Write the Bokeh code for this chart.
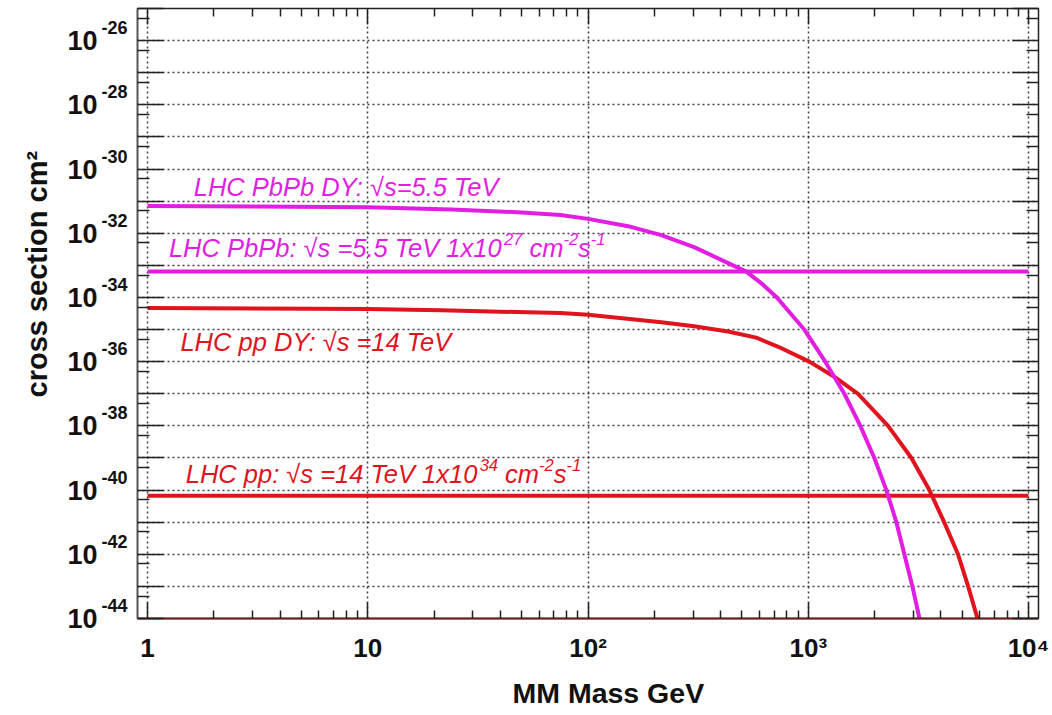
from bokeh.plotting import figure
from bokeh.models import FixedTicker, LogAxis, Label, Range1d, Title, LogScale
from bokeh.embed import file_html
from bokeh.resources import INLINE

# ---------------- data ----------------
pbpb_dy_mass = [1, 10, 24, 48, 75, 100, 152, 215, 303, 455, 523, 611, 720, 959,
                1194, 1458, 1723, 1995, 2262, 2512, 2731, 2971, 3198, 3300]
pbpb_dy_xsec = [7.0e-32, 6.5e-32, 5.5e-32, 4.5e-32, 3.7e-32, 2.8e-32, 1.66e-32,
                8.7e-33, 3.7e-33, 1.0e-33, 6.4e-34, 2.8e-34, 1.0e-34, 1.0e-35,
                1.0e-36, 1.0e-37, 1.0e-38, 1.0e-39, 1.0e-40, 1.0e-41, 1.0e-42,
                1.0e-43, 1.0e-44, 3.7e-45]

pp_dy_mass = [1, 10, 21.5, 48, 75, 100, 215, 303, 432, 580, 731, 1011, 1312,
              1683, 2303, 2940, 3548, 4139, 4786, 5321, 5866, 6050]
pp_dy_xsec = [4.7e-35, 4.4e-35, 4.0e-35, 3.5e-35, 3.3e-35, 2.9e-35, 1.7e-35,
              1.26e-35, 8.7e-36, 5.6e-36, 2.9e-36, 1.0e-36, 3.4e-37, 1.0e-37,
              1.0e-38, 1.0e-39, 1.0e-40, 1.0e-41, 1.0e-42, 1.0e-43, 1.0e-44,
              3.5e-45]

lumi_mass = [1, 10000]
pbpb_lumi_xsec = [6.4e-34, 6.4e-34]
pp_lumi_xsec = [6.6e-41, 6.6e-41]

x_ticks = [1.0, 10.0, 100.0, 1000.0, 10000.0]
x_tick_labels = ["1", "10", "10²", "10³", "10⁴"]
x_minor = [float(k * 10 ** n) for n in range(4) for k in range(2, 10)]

y_exponents = list(range(-44, -24))
y_ticks = [float(f"1e{e}") for e in y_exponents]
y_tick_base = ["10" if (e % 2 == 0 and e <= -26) else "" for e in y_exponents]
y_tick_exp = [str(e) if (e % 2 == 0 and e <= -26) else "" for e in y_exponents]
y_minor = [float(f"5e{e - 1}") for e in y_exponents]

# annotation texts: list of (text, is_superscript) pieces
label_pieces = [
    [("LHC PbPb DY: √s=5.5 TeV", False)],
    [("LHC PbPb: √s =5.5 TeV 1x10", False), ("27", True), (" cm", False),
     ("-2", True), ("s", False), ("-1", True)],
    [("LHC pp DY: √s =14 TeV", False)],
    [("LHC pp: √s =14 TeV 1x10", False), ("34", True), (" cm", False),
     ("-2", True), ("s", False), ("-1", True)],
]
label_mass = [1.62, 1.25, 1.41, 1.49]
label_xsec = [2.7e-31, 3.5e-33, 4.2e-36, 3.1e-40]

x_title = "MM Mass GeV"
y_title = "cross section cm²"

MAGENTA = "#E21EE2"
RED = "#E0141C"
FONT = "Liberation Sans"
INK = "#111111"

# Arial / Liberation Sans advance widths (1/1000 em)
AW = {' ': 278, 'L': 556, 'H': 722, 'C': 722, 'P': 667, 'b': 556, 'D': 722,
      'Y': 667, ':': 278, '√': 549, 's': 500, '=': 584, '.': 278, 'T': 611,
      'e': 556, 'V': 667, 'x': 500, 'c': 500, 'm': 833, 'p': 556, '-': 333}


def text_w(t, size):
    return sum(AW.get(ch, 556) for ch in t) * size / 1000.0


Y_LO, Y_HI = -44, -25            # log10 of the y range
FRAME_H = 610
PX_PER_DEC = FRAME_H / (Y_HI - Y_LO)
EXP_RAISE = 13 / PX_PER_DEC      # exponent labels sit 13 px above their tick

# ---------------- figure ----------------
p = figure(x_axis_type="log", y_axis_type="log",
           x_range=Range1d(0.9, 11100), y_range=Range1d(10.0 ** Y_LO, 10.0 ** Y_HI),
           frame_width=901, frame_height=FRAME_H,
           min_border_left=137, min_border_right=14, min_border_top=8,
           min_border_bottom=10,
           output_backend="svg", toolbar_location=None,
           background_fill_color="white", border_fill_color="white")
p.outline_line_color = "#222222"
p.outline_line_width = 1.5
p.extra_y_ranges = {
    "exp": Range1d(10.0 ** (Y_LO - EXP_RAISE), 10.0 ** (Y_HI - EXP_RAISE)),
}
p.extra_y_scales = {"exp": LogScale()}

xt = FixedTicker(ticks=x_ticks, minor_ticks=x_minor)
yt = FixedTicker(ticks=y_ticks, minor_ticks=y_minor)
yt_major = FixedTicker(ticks=y_ticks)

tick_style = dict(major_tick_line_color="#222222", minor_tick_line_color="#222222",
                  major_tick_line_width=1.5, minor_tick_line_width=1.5)

for ax in p.xaxis:
    ax.ticker = xt
    ax.major_label_overrides = dict(zip(x_ticks, x_tick_labels))
    ax.major_label_text_font = FONT
    ax.major_label_text_font_style = "bold"
    ax.major_label_text_font_size = "26px"
    ax.major_label_text_color = INK
    ax.major_label_standoff = 14
    ax.major_tick_in = 16
    ax.major_tick_out = 0
    ax.minor_tick_in = 8
    ax.minor_tick_out = 0
    ax.axis_line_color = "#6E1E1E"
    ax.axis_line_width = 2
    for k, v in tick_style.items():
        setattr(ax, k, v)

# innermost left axis: tick marks only
for ax in p.yaxis:
    ax.ticker = yt
    ax.major_label_overrides = {t: "" for t in y_ticks}
    ax.major_label_text_font_size = "8px"
    ax.major_label_standoff = 0
    ax.major_tick_in = 26
    ax.major_tick_out = 0
    ax.minor_tick_in = 12
    ax.minor_tick_out = 0
    ax.axis_line_color = "#555555"
    ax.axis_line_width = 1.5
    for k, v in tick_style.items():
        setattr(ax, k, v)

# exponent labels (raised)
exp_axis = LogAxis(y_range_name="exp", ticker=yt_major,
                   major_label_overrides=dict(zip(y_ticks, y_tick_exp)),
                   major_label_text_font=FONT, major_label_text_font_style="bold",
                   major_label_text_font_size="18px", major_label_text_color=INK,
                   major_label_standoff=10, major_tick_in=0, major_tick_out=0,
                   minor_tick_in=0, minor_tick_out=0, axis_line_color=None,
                   major_tick_line_color=None, minor_tick_line_color=None)
p.add_layout(exp_axis, "left")
# mantissa labels "10"
base_axis = LogAxis(ticker=yt_major,
                    major_label_overrides=dict(zip(y_ticks, y_tick_base)),
                    major_label_text_font=FONT, major_label_text_font_style="bold",
                    major_label_text_font_size="27px", major_label_text_color=INK,
                    major_label_standoff=1, major_tick_in=0, major_tick_out=0,
                    minor_tick_in=0, minor_tick_out=0, axis_line_color=None,
                    major_tick_line_color=None, minor_tick_line_color=None)
p.add_layout(base_axis, "left")

top = LogAxis(ticker=xt, major_label_overrides={t: "" for t in x_ticks},
              major_label_text_font_size="8px", major_label_standoff=0,
              major_tick_in=16, major_tick_out=0, minor_tick_in=8, minor_tick_out=0,
              axis_line_color="#222222", **tick_style)
right = LogAxis(ticker=yt, major_label_overrides={t: "" for t in y_ticks},
                major_label_text_font_size="8px", major_label_standoff=0,
                major_tick_in=26, major_tick_out=0, minor_tick_in=12, minor_tick_out=0,
                axis_line_color="#222222", **tick_style)
p.add_layout(top, "above")
p.add_layout(right, "right")

p.xgrid.ticker = xt
p.ygrid.ticker = yt
for g in (p.xgrid, p.ygrid):
    g.grid_line_color = "#111111"
    g.grid_line_dash = "2 3"
    g.grid_line_width = 1.5
    g.grid_line_alpha = 0.8

# axis titles
p.add_layout(Title(text=y_title, align="left", offset=221, standoff=24,
                   text_font=FONT, text_font_style="bold", text_font_size="29px",
                   text_color=INK), "left")
p.add_layout(Title(text=x_title, align="left", offset=375, standoff=19,
                   text_font=FONT, text_font_style="bold", text_font_size="28.5px",
                   text_color=INK), "below")

# curves
p.line(lumi_mass, pbpb_lumi_xsec, line_color=MAGENTA, line_width=4)
p.line(lumi_mass, pp_lumi_xsec, line_color=RED, line_width=4)
p.line(pp_dy_mass, pp_dy_xsec, line_color=RED, line_width=4, line_join="round")
p.line(pbpb_dy_mass, pbpb_dy_xsec, line_color=MAGENTA, line_width=4,
       line_join="round")

# in-plot annotations
FS = 25.5
SUP = 16.5
colors = [MAGENTA, MAGENTA, RED, RED]
for pieces, xm, ys, c in zip(label_pieces, label_mass, label_xsec, colors):
    off = 0.0
    for txt, is_sup in pieces:
        size = SUP if is_sup else FS
        lead = len(txt) - len(txt.lstrip(" "))
        off += text_w(" " * lead, size)
        body = txt.lstrip(" ")
        p.add_layout(Label(x=xm, y=ys, text=body, x_offset=off,
                           y_offset=(9 if is_sup else 0),
                           text_color=c, text_font=FONT, text_font_style="italic",
                           text_font_size=f"{size}px", text_baseline="middle",
                           text_align="left"))
        off += text_w(body, size)

open("out.html", "w").write(file_html(p, INLINE))
